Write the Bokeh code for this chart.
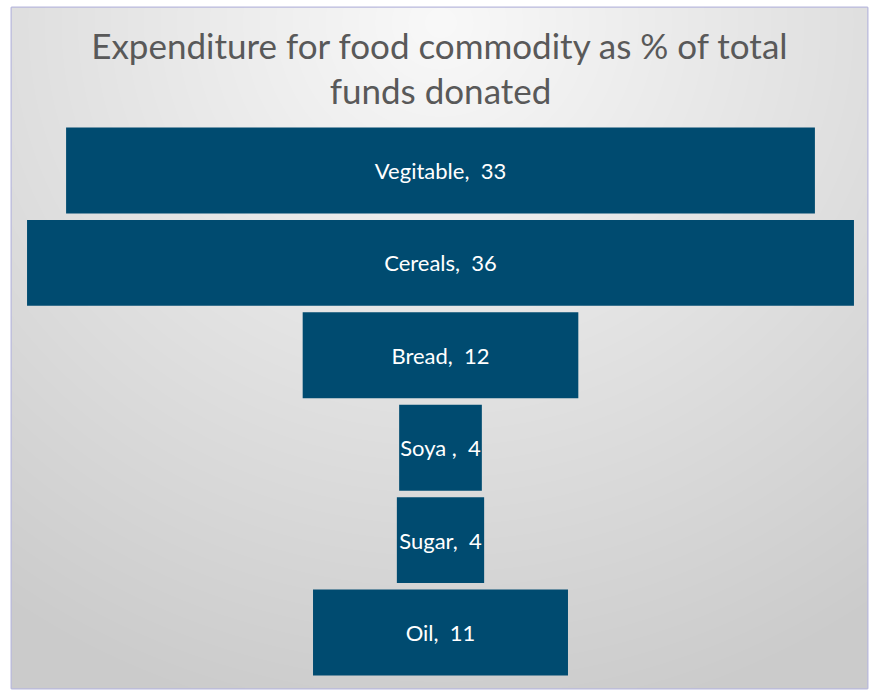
import numpy as np
from bokeh.plotting import figure
from bokeh.models import Range1d, ColumnDataSource
from bokeh.core.properties import value
from bokeh.embed import file_html
from bokeh.resources import INLINE

# ---- data ----
categories = ["Vegitable", "Cereals", "Bread", "Soya ", "Sugar", "Oil"]
values = [32.6, 36.0, 12.0, 3.6, 3.8, 11.1]
label_values = [33, 36, 12, 4, 4, 11]
title_lines = ["Expenditure for food commodity as % of total", "funds donated"]

W, H = 874, 690
BL, BR, BT, BB = 11, 7, 7, 2
FW, FH = W - BL - BR, H - BT - BB
BAR_COLOR = "#004b70"

PX_X = 22.97     # px per unit
PITCH = 92.4     # px per row
CX, CY = 429.0, 163.0   # frame px of the center of the first bar

x0, x1 = -CX / PX_X, (FW - CX) / PX_X
y0, y1 = -(FH - CY) / PITCH, CY / PITCH

p = figure(width=W, height=H, output_backend="svg", toolbar_location=None,
           x_range=Range1d(x0, x1), y_range=Range1d(y0, y1),
           min_border=0, min_border_left=BL, min_border_right=BR,
           min_border_top=BT, min_border_bottom=BB)
p.axis.visible = False
p.grid.visible = False
p.outline_line_color = "#b9b9dd"
p.outline_line_width = 2
p.background_fill_color = "#e2e2e2"
p.border_fill_color = "white"

# radial gradient background (decoration)
yy, xx = np.mgrid[0:FH, 0:FW]
top_y = (FH - 1 - yy).astype(float)
d = np.sqrt((xx - CX) ** 2 + ((top_y - 15.0) / 0.95) ** 2)
t = np.clip(d / 760.0, 0, 1)
g = (249 - (249 - 203) * t).astype(np.uint32)
img = (np.uint32(255) << 24) | (g << 16) | (g << 8) | g
p.image_rgba(image=[img.astype(np.uint32)], x=x0, y=y0, dw=x1 - x0, dh=y1 - y0)

ys = [-i for i in range(len(categories))]
labels = [f"{c},\u00a0 {v}" for c, v in zip(categories, label_values)]
src = ColumnDataSource(dict(x=[0] * len(values), y=ys, w=values, lab=labels))
p.rect(x="x", y="y", width="w", height=0.93, source=src,
       fill_color=BAR_COLOR, line_color=None)
p.text(x="x", y="y", text="lab", source=src, text_color="white",
       text_font=value("Lato"), text_font_size="22px",
       text_align="center", text_baseline="middle")

# title (two lines)
tsrc = ColumnDataSource(dict(x=[0, 0],
                             y=[y1 - 37 / PITCH, y1 - 82 / PITCH],
                             t=title_lines))
p.text(x="x", y="y", text="t", source=tsrc, text_color="#595959",
       text_font=value("Lato"), text_font_size="35px",
       text_align="center", text_baseline="alphabetic")

open("out.html", "w").write(file_html(p, INLINE))
